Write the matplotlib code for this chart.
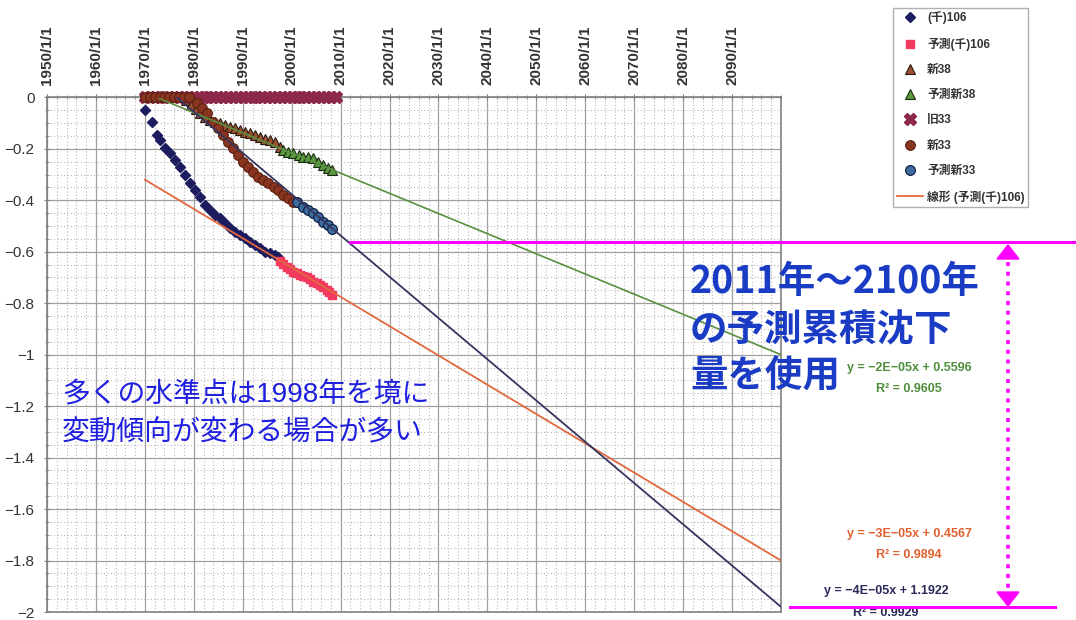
import matplotlib
matplotlib.use("Agg")
import matplotlib.pyplot as plt
from matplotlib.ticker import MultipleLocator, FuncFormatter
from matplotlib.lines import Line2D
from matplotlib.patches import Polygon

plt.rcParams['font.family'] = ['Liberation Sans', 'Noto Sans CJK JP', 'DejaVu Sans']

# ---- data (years as decimal year, values = cumulative subsidence) ----
sen106_years = [1970.0, 1971.4, 1972.4, 1973.1, 1974.1, 1975.1, 1976.2, 1977.2, 1978.2,
                1979.2, 1980.2, 1981.3, 1982.3, 1983.3, 1984.3, 1985.4, 1986.4, 1987.4,
                1988.4, 1989.4, 1990.5, 1991.5, 1992.5, 1993.5, 1994.6, 1995.6, 1996.6, 1997.3]
sen106_vals = [-0.049, -0.095, -0.146, -0.166, -0.198, -0.218, -0.243, -0.270, -0.302,
               -0.334, -0.360, -0.386, -0.418, -0.438, -0.457, -0.470, -0.489, -0.509,
               -0.522, -0.535, -0.548, -0.561, -0.574, -0.586, -0.600, -0.606, -0.612, -0.619]

pred106_years = [1997.6, 1998.3, 1999.0, 1999.6, 2000.3, 2001.0, 2001.7, 2002.4, 2003.1,
                 2003.8, 2004.4, 2005.1, 2005.8, 2006.5, 2007.2, 2007.7, 2008.2]
pred106_vals = [-0.638, -0.648, -0.658, -0.668, -0.677, -0.684, -0.690, -0.694, -0.697,
                -0.707, -0.716, -0.722, -0.729, -0.738, -0.748, -0.757, -0.768]

new38_years = [1978.5, 1979.5, 1980.4, 1981.3, 1982.3, 1983.3, 1984.3, 1985.4, 1986.4,
               1987.4, 1988.4, 1989.4, 1990.5, 1991.5, 1992.5, 1993.5, 1994.6, 1995.6,
               1996.6, 1997.6]
new38_vals = [-0.010, -0.030, -0.047, -0.062, -0.075, -0.088, -0.095, -0.101, -0.108,
              -0.114, -0.120, -0.127, -0.134, -0.140, -0.146, -0.153, -0.163, -0.166,
              -0.172, -0.192]

pred38_years = [1998.3, 1999.3, 2000.3, 2001.4, 2002.4, 2003.4, 2004.4, 2005.4, 2006.5,
                2007.5, 2008.2]
pred38_vals = [-0.205, -0.211, -0.218, -0.224, -0.231, -0.231, -0.237, -0.250, -0.263,
               -0.276, -0.282]

old33_years = [1970, 1971, 1972, 1973, 1974, 1975, 1976, 1977, 1978, 1979,
               1980, 1981, 1982, 1983, 1984, 1985, 1986, 1987, 1988, 1989,
               1990, 1991, 1992, 1993, 1994, 1995, 1996, 1997, 1998, 1999,
               2000, 2001, 2002, 2003, 2004, 2005, 2006, 2007, 2008, 2009]
old33_vals = [0, 0, 0, 0, 0, 0, 0, 0, 0, 0,
              0, 0, 0, 0, 0, 0, 0, 0, 0, 0,
              0, 0, 0, 0, 0, 0, 0, 0, 0, 0,
              0, 0, 0, 0, 0, 0, 0, 0, 0, 0]

new33_years = [1970, 1971, 1972, 1973, 1974, 1975, 1976, 1977, 1978, 1979,
               1980.6, 1981.6, 1982.6, 1984.0, 1985.0, 1986.0, 1987.0, 1988.1, 1989.1,
               1990.1, 1991.1, 1992.2, 1993.2, 1994.2, 1995.2, 1996.3, 1997.3, 1998.3,
               1999.3, 2000.2]
new33_vals = [0, 0, 0, 0, 0, 0, 0, 0, 0, 0,
              -0.023, -0.043, -0.062, -0.095, -0.120, -0.146, -0.172, -0.198, -0.224,
              -0.250, -0.270, -0.289, -0.308, -0.321, -0.334, -0.347, -0.360, -0.379,
              -0.392, -0.405]

pred33_years = [2001.0, 2002.4, 2003.4, 2004.4, 2005.4, 2006.5, 2007.5, 2008.2]
pred33_vals = [-0.405, -0.425, -0.438, -0.450, -0.464, -0.483, -0.496, -0.513]

# linear trend lines (end points)
trend106_years = [1970.0, 2100.0]
trend106_vals = [-0.32, -1.80]
trend38_years = [1973.0, 2100.0]
trend38_vals = [-0.005, -1.00]
trend33_years = [1976.5, 2100.0]
trend33_vals = [0.0, -1.98]

xtick_years = [1950, 1960, 1970, 1980, 1990, 2000, 2010, 2020, 2030, 2040, 2050, 2060, 2070, 2080, 2090]
xtick_labels = ['1950/1/1', '1960/1/1', '1970/1/1', '1980/1/1', '1990/1/1', '2000/1/1', '2010/1/1',
                '2020/1/1', '2030/1/1', '2040/1/1', '2050/1/1', '2060/1/1', '2070/1/1', '2080/1/1',
                '2090/1/1']

eq_texts = [('y = −2E−05x + 0.5596', 'R² = 0.9605', '#4f8f3a'),
            ('y = −3E−05x + 0.4567', 'R² = 0.9894', '#e0602e'),
            ('y = −4E−05x + 1.1922', 'R² = 0.9929', '#2a2a5a')]

W, H = 1076, 620


def fx(px):
    return px / W


def fy(py):
    return 1 - py / H


fig = plt.figure(figsize=(W / 100, H / 100), dpi=100)
ax = fig.add_axes([fx(47), fy(612), fx(781) - fx(47), fy(97.3) - fy(612)])
ax.set_xlim(1950, 2100)
ax.set_ylim(-2, 0)

# grid
ax.xaxis.set_major_locator(MultipleLocator(10))
ax.xaxis.set_minor_locator(MultipleLocator(2))
ax.yaxis.set_major_locator(MultipleLocator(0.2))
ax.yaxis.set_minor_locator(MultipleLocator(0.05))
ax.grid(which='major', color='#a0a0a0', lw=0.9)
ax.grid(which='minor', color='#b8b8b8', lw=0.8, ls=(0, (1, 2)))
ax.set_axisbelow(True)
for sp in ax.spines.values():
    sp.set_color('#808080')
    sp.set_linewidth(1.2)

ax.xaxis.tick_top()
ax.set_xticks(xtick_years)
ax.set_xticklabels(xtick_labels, rotation=90, fontsize=11, fontweight='bold', color='#333333')
ax.tick_params(axis='x', which='major', length=4, direction='inout', pad=7, color='#808080')
ax.tick_params(axis='x', which='minor', length=3, direction='inout', color='#808080')
ax.tick_params(axis='y', which='major', length=4, direction='inout', pad=7, color='#808080',
               labelsize=11, labelcolor='#333333')
ax.tick_params(axis='y', which='minor', length=3, direction='inout', color='#808080')
ax.yaxis.set_major_formatter(FuncFormatter(lambda v, p: ('%g' % round(v, 2)).replace('-', '−')))

# series
h1, = ax.plot(sen106_years, sen106_vals, ls='none', marker='D', ms=5.5, color='#1c1c5e',
              label='(千)106', clip_on=False, zorder=3)
h2, = ax.plot(pred106_years, pred106_vals, ls='none', marker='s', ms=6, color='#f23a5e',
              label='予測(千)106', zorder=3)
h3, = ax.plot(new38_years, new38_vals, ls='none', marker='^', ms=6.5, mfc='#9c5030',
              mec='#2a1a10', mew=0.8, label='新38', zorder=3)
h4, = ax.plot(pred38_years, pred38_vals, ls='none', marker='^', ms=6.5, mfc='#5a9a40',
              mec='#1a2a10', mew=0.8, label='予測新38', zorder=3)
h5, = ax.plot(old33_years, old33_vals, ls='none', marker='X', ms=8.5, color='#8c2848',
              label='旧33', clip_on=False, zorder=3)
h6, = ax.plot(new33_years, new33_vals, ls='none', marker='o', ms=7, mfc='#8a3520',
              mec='#5a2010', mew=0.8, label='新33', clip_on=False, zorder=3)
h7, = ax.plot(pred33_years, pred33_vals, ls='none', marker='o', ms=7, mfc='#3f6e9e',
              mec='#10204a', mew=0.9, label='予測新33', zorder=3)

h8, = ax.plot(trend106_years, trend106_vals, color='#e2683e', lw=1.3, label='線形 (予測(千)106)', zorder=4)
ax.plot(trend38_years, trend38_vals, color='#5a9040', lw=1.2, zorder=4)
ax.plot(trend33_years, trend33_vals, color='#353560', lw=1.3, zorder=4)

leg = fig.legend(handles=[h1, h2, h3, h4, h5, h6, h7, h8],
                 loc='upper left', bbox_to_anchor=(fx(893), fy(8)), borderaxespad=0,
                 fontsize=8.5, labelspacing=1.12, handlelength=2.2, handletextpad=0.4,
                 borderpad=0.3, fancybox=False, framealpha=1, edgecolor='#b0b0b0')
for t in leg.get_texts():
    t.set_color('#333333')
    t.set_fontweight('bold')

# annotations
blue = '#1f1fe0'
fig.text(fx(62), fy(395), '多くの水準点は1998年を境に', fontsize=20, color=blue,
         ha='left', va='center', family=['Liberation Sans', 'Noto Sans CJK JP'])
fig.text(fx(62), fy(432), '変動傾向が変わる場合が多い', fontsize=20, color=blue,
         ha='left', va='center', family=['Noto Sans CJK JP'])

box_blue = '#1a3cc4'
for txt, yy in [('2011年～2100年', 282), ('の予測累積沈下', 330), ('量を使用', 376)]:
    fig.text(fx(690), fy(yy), txt, fontsize=27, fontweight='bold', color=box_blue,
             ha='left', va='center', family=['Noto Sans CJK JP'], zorder=5)

eq_pos = [(909, 368, 389), (909, 534, 555), (886, 591, 613)]
for (l1, l2, col), (cx, y1, y2) in zip(eq_texts, eq_pos):
    fig.text(fx(cx), fy(y1), l1, fontsize=9, fontweight='bold', color=col, ha='center', va='center')
    fig.text(fx(cx), fy(y2), l2, fontsize=9, fontweight='bold', color=col, ha='center', va='center')

mag = '#ff00ff'
fig.add_artist(Line2D([fx(350), fx(1076)], [fy(242), fy(242)], color=mag, lw=2.2, zorder=6))
fig.add_artist(Line2D([fx(790), fx(1055)], [fy(607), fy(607)], color=mag, lw=2.2, zorder=6))
fig.add_artist(Line2D([fx(1008), fx(1008)], [fy(262), fy(592)], color=mag, lw=2.6,
                      ls=(0, (1.1, 1.6)), solid_capstyle='butt', zorder=6))
fig.add_artist(Polygon([(fx(997), fy(259)), (fx(1019), fy(259)), (fx(1008), fy(245))],
                       closed=True, color=mag, zorder=6))
fig.add_artist(Polygon([(fx(997), fy(592)), (fx(1019), fy(592)), (fx(1008), fy(606))],
                       closed=True, color=mag, zorder=6))

fig.savefig('out.png', dpi=100)
